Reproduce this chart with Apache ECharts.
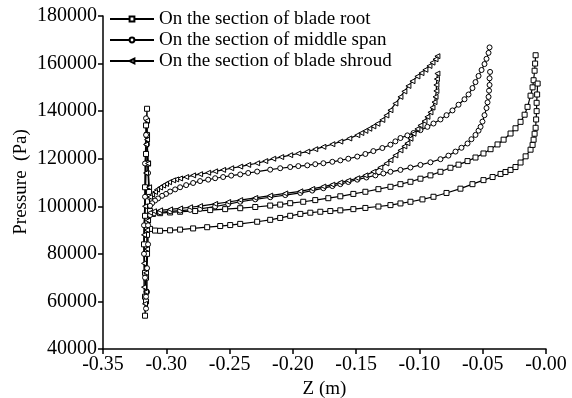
<!DOCTYPE html>
<html>
<head>
<meta charset="utf-8">
<script src="https://cdn.jsdelivr.net/npm/echarts@6/dist/echarts.min.js"></script>
<style>
html, body { margin: 0; padding: 0; background: #fff; }
#chart { width: 572px; height: 398px; }
</style>
</head>
<body>
<div id="chart"></div>
<script>
// legend names
var sectionNames = ['On the section of blade root', 'On the section of middle span', 'On the section of blade shroud'];

// axis ticks
var zTicks = [-0.35, -0.30, -0.25, -0.20, -0.15, -0.10, -0.05, 0];
var pTicks = [40000, 60000, 80000, 100000, 120000, 140000, 160000, 180000];

// [Z (m), Pressure (Pa)] - upper side from trailing edge, leading edge, lower side back to trailing edge
var rootSection = [
  [-0.0082,163500],[-0.0086,160000],[-0.0090,157000],[-0.0098,153000],[-0.0106,150000],[-0.0122,146500],[-0.0146,141800],[-0.0169,138500],[-0.0201,135500],[-0.0241,132800],[-0.0280,130600],[-0.0335,128000],[-0.0383,126000],[-0.0438,124000],[-0.0494,122200],[-0.0557,120500],[-0.0620,119000],[-0.0691,117500],[-0.0755,116200],[-0.0834,114500],[-0.0913,113000],[-0.0992,111600],[-0.1071,110300],[-0.1150,109300],[-0.1229,108200],[-0.1324,107200],[-0.1427,106100],[-0.1522,105200],[-0.1625,104200],[-0.1720,103400],[-0.1823,102600],[-0.1918,101900],[-0.2021,101300],[-0.2100,100700],[-0.2179,100300],[-0.2297,99700],[-0.2416,99200],[-0.2535,98800],[-0.2653,98400],[-0.2772,98000],[-0.2891,97700],[-0.2970,97400],[-0.3049,97100],[-0.3104,96800],
  [-0.3128,98000],[-0.3136,106000],[-0.3144,118000],[-0.3152,130000],[-0.3152,141000],[-0.3160,134000],[-0.3160,122000],[-0.3168,108000],[-0.3168,96000],[-0.3176,84000],[-0.3168,72000],[-0.3168,62000],[-0.3168,54000],[-0.3160,60000],[-0.3160,70000],[-0.3152,80000],[-0.3152,88000],
  [-0.3128,90500],[-0.3089,89800],[-0.3049,89700],[-0.2970,89900],[-0.2891,90200],[-0.2788,90700],[-0.2677,91200],[-0.2574,91700],[-0.2495,92100],[-0.2416,92600],[-0.2282,93500],[-0.2179,94300],[-0.2100,95100],[-0.2021,96000],[-0.1941,96800],[-0.1862,97300],[-0.1783,97700],[-0.1704,98000],[-0.1625,98300],[-0.1522,98800],[-0.1427,99300],[-0.1324,99900],[-0.1229,100500],[-0.1150,101200],[-0.1071,101900],[-0.0976,102900],[-0.0889,104000],[-0.0786,105600],[-0.0676,107400],[-0.0581,109300],[-0.0494,111000],[-0.0422,112300],[-0.0359,113600],[-0.0320,114400],[-0.0280,115300],[-0.0241,116500],[-0.0201,118400],[-0.0161,121000],[-0.0122,123800],[-0.0106,125800],[-0.0098,128000],[-0.0090,130500],[-0.0082,133000],[-0.0078,136500],[-0.0074,140000],[-0.0074,143500],[-0.0070,147000],[-0.0066,151600]
];

var middleSection = [
  [-0.0446,166800],[-0.0454,164500],[-0.0470,162000],[-0.0486,159800],[-0.0509,157300],[-0.0533,154800],[-0.0557,152200],[-0.0581,149700],[-0.0612,147000],[-0.0644,145000],[-0.0691,142700],[-0.0739,140300],[-0.0786,138300],[-0.0834,136500],[-0.0889,134800],[-0.0937,133400],[-0.0992,132000],[-0.1047,130800],[-0.1095,129800],[-0.1150,128700],[-0.1190,127300],[-0.1229,125900],[-0.1293,124500],[-0.1364,123200],[-0.1427,122000],[-0.1491,120900],[-0.1562,120000],[-0.1625,119300],[-0.1688,118700],[-0.1759,118100],[-0.1823,117700],[-0.1886,117200],[-0.1957,116900],[-0.2021,116500],[-0.2100,116000],[-0.2179,115400],[-0.2282,114600],[-0.2353,114000],[-0.2416,113400],[-0.2487,112900],[-0.2551,112300],[-0.2614,111800],[-0.2669,111200],[-0.2733,110600],[-0.2788,109800],[-0.2843,108900],[-0.2891,108000],[-0.2930,107100],[-0.2970,106200],[-0.3002,105200],[-0.3033,104400],[-0.3065,103300],[-0.3089,102400],[-0.3112,101300],[-0.3128,100200],
  [-0.3136,104000],[-0.3144,114000],[-0.3152,126000],[-0.3160,137000],[-0.3160,130000],[-0.3168,118000],[-0.3168,104000],[-0.3176,92000],[-0.3176,80000],[-0.3168,70000],[-0.3160,62000],[-0.3160,57000],[-0.3152,64000],[-0.3152,74000],[-0.3144,84000],[-0.3144,92000],
  [-0.3128,96300],[-0.3097,97000],[-0.3049,97500],[-0.2970,97900],[-0.2891,98200],[-0.2812,98500],[-0.2733,98900],[-0.2614,99900],[-0.2511,100900],[-0.2416,101900],[-0.2297,102900],[-0.2179,103800],[-0.2060,104700],[-0.1941,105600],[-0.1847,106600],[-0.1759,107600],[-0.1688,108500],[-0.1625,109300],[-0.1562,110200],[-0.1491,111200],[-0.1419,112100],[-0.1348,113000],[-0.1285,113800],[-0.1229,114500],[-0.1150,115300],[-0.1071,116300],[-0.0992,117400],[-0.0913,118500],[-0.0834,119800],[-0.0771,121300],[-0.0715,123000],[-0.0668,124600],[-0.0620,126400],[-0.0589,128200],[-0.0557,130000],[-0.0533,131800],[-0.0517,133400],[-0.0502,135600],[-0.0486,138300],[-0.0470,141300],[-0.0462,143700],[-0.0454,146000],[-0.0450,148600],[-0.0446,151000],[-0.0446,153800],[-0.0442,156500]
];

var shroudSection = [
  [-0.0858,163100],[-0.0873,161800],[-0.0897,160400],[-0.0921,159000],[-0.0953,157400],[-0.0984,156000],[-0.1016,154600],[-0.1055,152600],[-0.1087,150600],[-0.1119,148300],[-0.1150,146000],[-0.1190,143200],[-0.1229,140400],[-0.1261,138200],[-0.1293,136300],[-0.1332,134700],[-0.1364,133600],[-0.1396,132600],[-0.1427,131700],[-0.1459,130800],[-0.1491,129900],[-0.1554,128500],[-0.1625,127200],[-0.1688,126100],[-0.1759,125000],[-0.1823,124000],[-0.1886,123000],[-0.1957,122200],[-0.2021,121500],[-0.2092,120700],[-0.2155,120000],[-0.2218,119000],[-0.2282,118100],[-0.2353,117400],[-0.2416,116700],[-0.2487,116000],[-0.2551,115300],[-0.2614,114700],[-0.2669,114100],[-0.2733,113500],[-0.2788,113000],[-0.2843,112300],[-0.2891,111700],[-0.2922,111300],[-0.2946,110900],[-0.2978,110100],[-0.3002,109400],[-0.3025,108700],[-0.3049,107900],[-0.3073,107000],[-0.3089,106000],[-0.3112,104900],[-0.3128,103900],
  [-0.3136,108000],[-0.3144,118000],[-0.3152,128000],[-0.3152,136000],[-0.3160,126000],[-0.3160,114000],[-0.3168,100000],[-0.3176,88000],[-0.3176,76000],[-0.3176,66000],[-0.3168,59000],[-0.3160,64000],[-0.3160,72000],[-0.3152,82000],[-0.3152,90000],[-0.3144,94000],
  [-0.3128,97300],[-0.3097,97900],[-0.3049,98300],[-0.2970,98700],[-0.2891,99100],[-0.2812,99600],[-0.2733,100100],[-0.2614,101000],[-0.2511,101800],[-0.2416,102600],[-0.2297,103500],[-0.2179,104500],[-0.2060,105400],[-0.1941,106300],[-0.1847,107300],[-0.1759,108300],[-0.1688,109100],[-0.1625,110000],[-0.1562,110800],[-0.1491,111800],[-0.1427,113000],[-0.1364,114500],[-0.1309,116300],[-0.1261,118000],[-0.1229,119400],[-0.1190,121400],[-0.1150,123500],[-0.1119,125200],[-0.1095,126500],[-0.1071,128400],[-0.1047,130500],[-0.1016,132500],[-0.0992,134000],[-0.0960,135800],[-0.0937,137600],[-0.0913,139500],[-0.0897,141500],[-0.0881,143800],[-0.0873,146000],[-0.0866,148500],[-0.0866,151000],[-0.0862,153500],[-0.0858,155800]
];

var serif = "'Liberation Serif', 'Times New Roman', serif";

function makeSeries(name, data, symbol, rotate) {
  return {
    name: name,
    type: 'line',
    data: data,
    symbol: symbol,
    symbolSize: 5,
    symbolRotate: rotate || 0,
    showSymbol: true,
    smooth: false,
    lineStyle: { color: '#000', width: 1.2 },
    itemStyle: { color: '#fff', borderColor: '#000', borderWidth: 1 },
    emphasis: { disabled: true }
  };
}

var myChart = echarts.init(document.getElementById('chart'));
myChart.setOption({
  animation: false,
  backgroundColor: '#fff',
  grid: { left: 103, right: 26, top: 16, bottom: 49, outerBoundsMode: 'none' },
  legend: {
    data: sectionNames,
    orient: 'vertical',
    left: 104,
    top: 4,
    itemWidth: 44,
    itemHeight: 6,
    itemGap: 1,
    textStyle: { fontFamily: serif, fontSize: 19, color: '#000', lineHeight: 20 }
  },
  xAxis: {
    type: 'value',
    min: zTicks[0],
    max: zTicks[zTicks.length - 1],
    interval: 0.05,
    name: 'Z (m)',
    nameLocation: 'middle',
    nameGap: 27,
    nameTextStyle: { fontFamily: serif, fontSize: 19, color: '#000' },
    axisLine: { onZero: false, lineStyle: { color: '#000', width: 1.5 } },
    axisTick: { show: true, length: 5, lineStyle: { color: '#000', width: 1.5 } },
    axisLabel: {
      fontFamily: serif, fontSize: 20, color: '#000', margin: 6,
      formatter: function (v) { return v === 0 ? '-0.00' : v.toFixed(2); }
    },
    splitLine: { show: false }
  },
  yAxis: {
    type: 'value',
    min: pTicks[0],
    max: pTicks[pTicks.length - 1],
    interval: 20000,
    axisLine: { show: true, onZero: false, lineStyle: { color: '#000', width: 1.5 } },
    axisTick: { show: true, length: 5, lineStyle: { color: '#000', width: 1.5 } },
    axisLabel: {
      fontFamily: serif, fontSize: 20, color: '#000', margin: 6,
      formatter: function (v) { return String(v); }
    },
    splitLine: { show: false }
  },
  graphic: [{
    type: 'text',
    x: 21,
    y: 182,
    rotation: Math.PI / 2,
    style: {
      text: 'Pressure  (Pa)',
      fontFamily: serif,
      fontSize: 19,
      fill: '#000',
      align: 'center',
      verticalAlign: 'middle'
    }
  }],
  series: [
    makeSeries(sectionNames[0], rootSection, 'rect', 0),
    makeSeries(sectionNames[1], middleSection, 'circle', 0),
    makeSeries(sectionNames[2], shroudSection, 'triangle', 90)
  ]
});
</script>
</body>
</html>
